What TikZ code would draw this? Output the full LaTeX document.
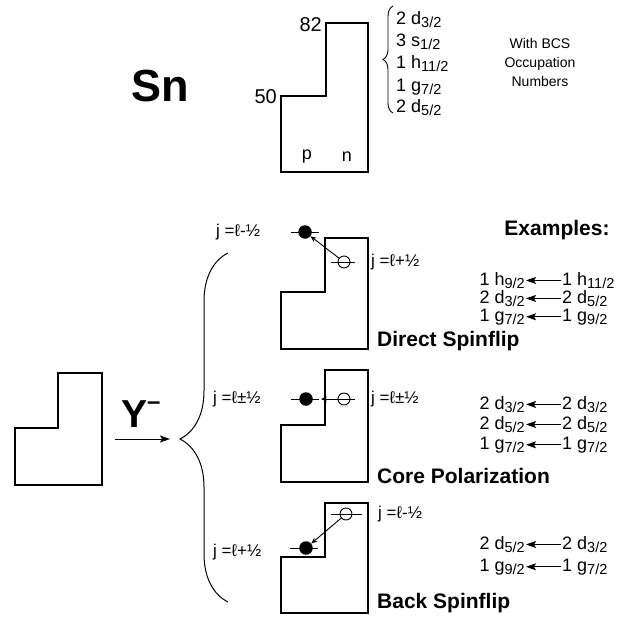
\documentclass[tikz,border=0pt]{standalone}
\usepackage{fontspec}
\setmainfont{Liberation Sans}
\usetikzlibrary{arrows.meta,positioning,decorations.pathreplacing}

\newcommand{\sub}[2]{\raisebox{-0.4ex}{\fontsize{14.5}{14.5}\selectfont #1/#2}}
\newcommand{\orb}[4]{#1 #2\sub{#3}{#4}}

\tikzset{
  shell/.style={line width=1.3pt},
  occ/.style={circle, fill, inner sep=0pt, minimum size=13.5pt},
  hole/.style={circle, draw, line width=0.9pt, inner sep=0pt, minimum size=12pt},
  level/.style={line width=1pt},
  jlab/.style={font=\fontsize{17}{17}\selectfont, inner sep=0pt},
  orbit/.style={font=\fontsize{18}{18}\selectfont, inner sep=1pt},
  title/.style={font=\fontsize{21}{21}\selectfont\bfseries, inner sep=0pt},
  ex/.style={-{Stealth[length=10pt,width=7pt,inset=2pt]}, line width=1pt},
  jump/.style={-{Stealth[length=6pt,width=5pt]}, line width=0.9pt}
}

\begin{document}
\begin{tikzpicture}[x=1pt, y=-1pt]
\useasboundingbox (0,0) rectangle (637,616);

% Sn ground state
\node[font=\fontsize{45}{45}\selectfont\bfseries] (sn) at (160,86) {Sn};
\draw[shell] (281,96) -- (326,96) -- (326,23) -- (368,23) -- (368,172) -- (281,172) -- cycle;
\node[orbit, font=\fontsize{20}{20}\selectfont, anchor=east] (n82) at (323,25) {82};
\node[orbit, font=\fontsize{20}{20}\selectfont, anchor=east] (n50) at (278,97) {50};
\node[orbit] (p) at (307,157) {p};
\node[orbit] (n) at (347,157) {n};
\draw[decorate, decoration={brace, amplitude=10pt}, line width=0.9pt] (393,113) -- (393,6);
\foreach \y/\n/\l/\a/\b [count=\i] in {18/2/d/3/2, 40/3/s/1/2, 62/1/h/11/2, 85/1/g/7/2, 106/2/d/5/2}
  \node[orbit, anchor=base west] (sh\i) at (395,\y+6) {\orb{\n}{\l}{\a}{\b}};
\node[font=\fontsize{14}{19}\selectfont, align=center] (bcs) at (540,62) {With BCS\\Occupation\\Numbers};

% excitation
\draw[shell] (15,428) -- (58,428) -- (58,373) -- (102,373) -- (102,485) -- (15,485) -- cycle;
\node[font=\fontsize{39}{39}\selectfont\bfseries, anchor=base west, inner sep=0pt] (ym) at (121,427)
  {Y\raisebox{18pt}{\fontsize{24}{24}\selectfont –}};
\coordinate (yin) at (115,439);
\coordinate (yout) at (170,439);
\draw[ex] (yin) -- (yout);
\draw[decorate, decoration={brace, amplitude=48pt, aspect=0.467}, line width=1pt] (228,602) -- (228,253);

\node[title] (examples) at (557,230) {Examples:};

% direct spinflip
\draw[shell] (281,292) -- (325,292) -- (325,238) -- (368,238) -- (368,349) -- (281,349) -- cycle;
\draw[level] (291,232) -- (319,232);
\node[occ] (ds1) at (305,232) {};
\draw[level] (331,262) -- (355,262);
\node[hole] (ds2) at (344,262) {};
\draw[jump] (ds2) -- (ds1);
\node[jlab, anchor=west] (dsj1) at (216,232) {j =ℓ-½};
\node[jlab, anchor=west] (dsj2) at (371,262) {j =ℓ+½};
\node[title, anchor=west] (ds) at (377,341) {Direct Spinflip};

% core polarization
\draw[shell] (281,425) -- (325,425) -- (325,370) -- (368,370) -- (368,482) -- (281,482) -- cycle;
\draw[level] (291,399) -- (319,399);
\node[occ] (cp1) at (306,399) {};
\draw[level] (331,399) -- (355,399);
\node[hole] (cp2) at (344,399) {};
\draw[jump, shorten >=8pt] (cp2) -- (cp1);
\node[jlab, anchor=west] (cpj1) at (213,399) {j =ℓ±½};
\node[jlab, anchor=west] (cpj2) at (371,399) {j =ℓ±½};
\node[title, anchor=west] (cp) at (377,476) {Core Polarization};

% back spinflip
\draw[shell] (281,557) -- (325,557) -- (325,503) -- (368,503) -- (368,613) -- (281,613) -- cycle;
\draw[level] (331,514) -- (362,514);
\node[hole] (bs2) at (346,514) {};
\draw[level] (290,548) -- (318,548);
\node[occ] (bs1) at (306,548) {};
\draw[jump] (bs2) -- (bs1);
\node[jlab, anchor=west] (bsj1) at (213,552) {j =ℓ+½};
\node[jlab, anchor=west] (bsj2) at (378,514) {j =ℓ-½};
\node[title, anchor=west] (bs) at (377,603) {Back Spinflip};

% examples
\foreach \y/\n/\l/\a/\b/\m/\k/\c/\d [count=\i] in {
  279/1/h/9/2/1/h/11/2, 297/2/d/3/2/2/d/5/2, 315/1/g/7/2/1/g/9/2,
  403/2/d/3/2/2/d/3/2, 423/2/d/5/2/2/d/5/2, 443/1/g/7/2/1/g/7/2,
  543/2/d/5/2/2/d/3/2, 565/1/g/9/2/1/g/7/2}
{
  \node[orbit, anchor=base east] (fin\i) at (526,\y+6) {\orb{\n}{\l}{\a}{\b}};
  \node[orbit, anchor=base west] (ini\i) at (561,\y+6) {\orb{\m}{\k}{\c}{\d}};
  \draw[ex] (ini\i.west) -- (fin\i.east);
}
\end{tikzpicture}
\end{document}
